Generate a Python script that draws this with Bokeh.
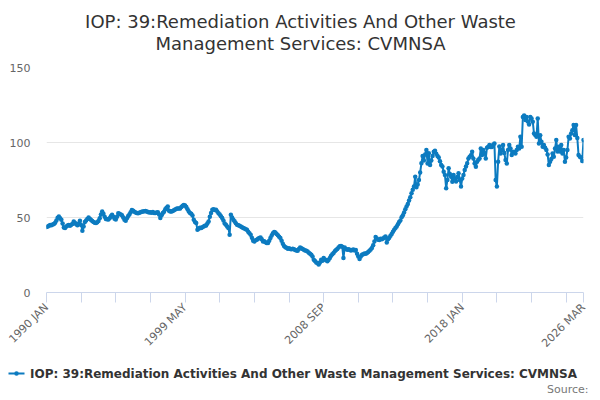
import math
from bokeh.plotting import figure
from bokeh.layouts import column
from bokeh.models import Range1d, FixedTicker, ColumnDataSource
from bokeh.core.properties import value
from bokeh.embed import file_html
from bokeh.resources import INLINE

# Monthly index values, Jan 1990 .. Mar 2026
values_1990s = [
    43.6, 44.0, 44.5, 45.0, 44.8, 45.3, 45.6, 46.5, 48.0, 49.8, 50.7, 49.5,
    48.5, 46.0, 43.4, 43.0, 44.0, 44.7, 45.0, 44.5, 45.2, 45.6, 47.4, 46.5,
    45.5, 44.8, 46.0, 47.8, 45.0, 41.2, 44.0, 47.0, 48.0, 49.0, 50.0, 49.2,
    48.3, 47.6, 47.0, 46.5, 46.3, 46.8, 47.6, 49.5, 52.0, 54.0, 52.5, 50.5,
    49.0, 48.8, 48.6, 49.5, 50.8, 51.8, 50.5, 49.2, 48.6, 50.5, 52.9, 52.5,
    52.0, 51.5, 50.0, 48.5, 47.8, 49.5, 51.0, 52.0, 53.5, 55.0, 54.5, 53.8,
    53.3, 53.0, 52.8, 53.2, 53.5, 53.8, 54.0, 54.2, 54.4, 54.0, 53.6, 53.3,
    53.5, 53.2, 53.7, 53.0, 53.0, 53.4, 53.5, 52.0, 49.6, 51.5, 53.0, 53.9,
    55.5, 56.5, 57.3, 54.5, 54.0, 54.0, 54.3, 54.8, 55.3, 55.8, 56.0, 56.0,
    56.0, 57.0, 57.8, 58.4, 58.0, 57.0, 55.5, 54.0, 53.0, 52.5, 51.3, 48.5,
]
values_2000s = [
    47.0, 46.3, 41.8, 42.5, 43.2, 43.0, 43.5, 44.0, 44.5, 44.7, 46.0, 47.4,
    50.5, 53.0, 55.1, 55.5, 55.0, 55.1, 54.0, 52.9, 52.0, 50.8, 49.6, 48.0,
    46.0, 45.2, 44.0, 43.0, 38.5, 51.8, 50.0, 48.5, 47.5, 46.2, 45.2, 44.8,
    44.5, 44.0, 43.5, 43.0, 42.6, 42.2, 41.8, 40.5, 39.5, 38.5, 36.5, 34.5,
    34.0, 34.8, 35.2, 35.8, 36.3, 36.7, 35.5, 34.0, 34.2, 33.5, 33.0, 33.0,
    34.5, 36.3, 38.0, 39.5, 40.3, 40.0, 39.0, 38.2, 37.2, 36.3, 34.5, 32.5,
    31.0, 30.2, 29.8, 29.2, 29.5, 29.0, 28.8, 29.2, 28.8, 28.3, 28.0, 27.9,
    29.0, 30.0, 29.5, 29.0, 28.5, 28.0, 27.8, 27.4, 26.5, 25.8, 25.2, 24.0,
    21.9, 21.0, 20.0, 19.5, 18.6, 20.0, 21.9, 21.2, 23.0, 22.0, 21.5, 20.8,
    21.8, 23.0, 24.5, 25.5, 26.3, 27.5, 28.3, 29.0, 30.0, 30.8, 31.0, 30.5,
]
values_2010s = [
    23.0, 30.0, 29.0, 28.5, 28.8, 28.5, 28.0, 28.3, 28.6, 28.0, 28.3, 25.9,
    24.0, 22.4, 24.0, 25.2, 25.5, 26.0, 25.8, 26.3, 27.0, 27.8, 28.6, 29.7,
    31.5, 34.0, 37.0, 36.0, 35.2, 35.0, 35.8, 35.5, 36.0, 36.6, 37.4, 33.4,
    35.5, 36.5, 37.8, 39.0, 40.5, 41.8, 43.0, 44.0, 45.5, 47.0, 48.0, 50.2,
    51.5, 53.3, 55.5, 57.3, 59.0, 61.3, 63.5, 66.2, 68.5, 70.6, 77.2, 70.2,
    72.0, 75.0, 80.0, 86.1, 91.0, 88.0, 92.0, 95.0, 86.0, 92.8, 85.0, 88.0,
    91.0, 93.8, 94.5, 92.5, 91.0, 90.0, 87.5, 85.0, 84.0, 80.5, 78.4, 69.5,
    75.0, 82.8, 79.0, 77.2, 73.9, 78.4, 76.0, 74.0, 77.0, 79.5, 75.0, 70.6,
    76.0, 78.4, 81.7, 84.0, 86.1, 89.4, 90.5, 91.5, 93.8, 89.4, 86.0, 83.9,
    87.2, 88.5, 89.4, 96.0, 91.6, 95.0, 93.0, 89.4, 96.5, 97.2, 98.3, 97.0,
]
values_2020s = [
    97.0, 98.5, 99.4, 75.0, 70.6, 87.2, 97.3, 92.7, 95.0, 98.3, 93.0, 88.3,
    86.0, 95.0, 98.3, 96.0, 91.6, 93.8, 93.5, 92.7, 95.0, 97.2, 96.0, 103.8,
    97.2, 117.0, 118.0, 115.0, 117.0, 114.0, 112.0, 117.0, 116.0, 113.9, 106.0, 105.0,
    103.8, 116.0, 99.4, 104.9, 100.5, 97.2, 98.3, 96.5, 95.0, 92.0, 85.0, 87.2,
    89.0, 92.7, 90.5, 96.0, 101.6, 94.0, 97.2, 94.0, 98.3, 92.7, 95.0, 87.2,
    90.0, 95.0, 103.8, 102.7, 106.0, 108.2, 111.6, 105.0, 111.6, 103.0, 91.6, 90.5,
    90.0, 87.6, 101.6,
]
start_year = 1990
month_names = ["JAN", "FEB", "MAR", "APR", "MAY", "JUN",
               "JUL", "AUG", "SEP", "OCT", "NOV", "DEC"]
labelled_ticks = ["1990 JAN", "1999 MAY", "2008 SEP", "2018 JAN", "2026 MAR"]
y_ticks = [0, 50, 100, 150]

series_name = "IOP: 39:Remediation Activities And Other Waste Management Services: CVMNSA"
title_lines = ["IOP: 39:Remediation Activities And Other Waste",
               "Management Services: CVMNSA"]
source_text = "Source:"

values = values_1990s + values_2000s + values_2010s + values_2020s
n = len(values)
categories = [f"{start_year + i // 12} {month_names[i % 12]}" for i in range(n)]
src = ColumnDataSource(dict(x=list(range(n)), y=values, cat=categories))

COLOR = "#0c7bc0"
FONT = "DejaVu Sans"
W = 600
TITLE_H = 60
MAIN_H = 297
FOOT_H = 400 - TITLE_H - MAIN_H


def blank(height):
    f = figure(width=W, height=height, output_backend="svg", toolbar_location=None,
               x_range=Range1d(0, W), y_range=Range1d(height, 0),
               x_axis_type=None, y_axis_type=None, frame_align=False,
               min_border=0, min_border_left=0, min_border_right=0,
               min_border_top=0, min_border_bottom=0)
    f.outline_line_color = None
    f.background_fill_color = "white"
    f.border_fill_color = "white"
    return f


# ---- title ----
tf = blank(TITLE_H)
tf.text(x=[W / 2, W / 2], y=[20.5, 42.5], text=title_lines,
        text_align="center", text_baseline="middle", text_font=value(FONT),
        text_font_size="18px", text_color="#333333")

# ---- main chart ----
p = figure(width=W, height=MAIN_H, output_backend="svg", toolbar_location=None,
           x_range=Range1d(0, n - 1), y_range=Range1d(0, 150), frame_align=False,
           min_border_left=46, min_border_right=17, min_border_top=7,
           min_border_bottom=64)
p.outline_line_color = None
p.background_fill_color = "white"
p.border_fill_color = "white"

p.line("x", "y", source=src, line_color=COLOR, line_width=2)
p.scatter("x", "y", source=src, size=4.5, fill_color=COLOR, line_color=None)

step = 28
xt = list(range(0, n, step))
if xt[-1] != n - 1:
    xt.append(n - 1)
p.xaxis.ticker = FixedTicker(ticks=xt, minor_ticks=[])
p.xaxis.major_label_overrides = {
    t: (categories[t] if categories[t] in labelled_ticks else "") for t in xt}
p.xaxis.major_label_orientation = math.pi / 4
p.xaxis.axis_line_color = "#ccd6eb"
p.xaxis.major_tick_line_color = "#ccd6eb"
p.xaxis.minor_tick_line_color = None
p.xaxis.major_tick_out = 10
p.xaxis.major_tick_in = 0
p.xaxis.major_label_standoff = 3
p.xaxis.major_label_text_font_size = "11px"
p.xaxis.major_label_text_color = "#666666"
p.xaxis.major_label_text_font = FONT
p.xgrid.visible = False

p.yaxis.ticker = FixedTicker(ticks=y_ticks, minor_ticks=[])
p.yaxis.axis_line_color = None
p.yaxis.major_tick_line_color = None
p.yaxis.minor_tick_line_color = None
p.yaxis.major_tick_out = 0
p.yaxis.major_tick_in = 0
p.yaxis.major_label_standoff = 16
p.yaxis.major_label_text_font_size = "11px"
p.yaxis.major_label_text_color = "#666666"
p.yaxis.major_label_text_font = FONT
p.ygrid.ticker = FixedTicker(ticks=y_ticks)
p.ygrid.grid_line_color = "#e6e6e6"

# ---- footer: legend + source ----
ff = blank(FOOT_H)
legend_y = 373 - (TITLE_H + MAIN_H)
ff.line(x=[8, 24], y=[legend_y, legend_y], line_color=COLOR, line_width=2)
ff.scatter(x=[16], y=[legend_y], size=4.5, fill_color=COLOR, line_color=None)
ff.text(x=[29.5], y=[legend_y], text=[series_name], text_align="left",
        text_baseline="middle", text_font=value(FONT), text_font_size="12px",
        text_font_style="bold", text_color="#333333")
ff.text(x=[588], y=[389 - (TITLE_H + MAIN_H)], text=[source_text],
        text_align="right", text_baseline="middle", text_font=value(FONT),
        text_font_size="11px", text_color="#777777")

layout = column(tf, p, ff, spacing=0)
open("out.html", "w").write(file_html(layout, INLINE))
